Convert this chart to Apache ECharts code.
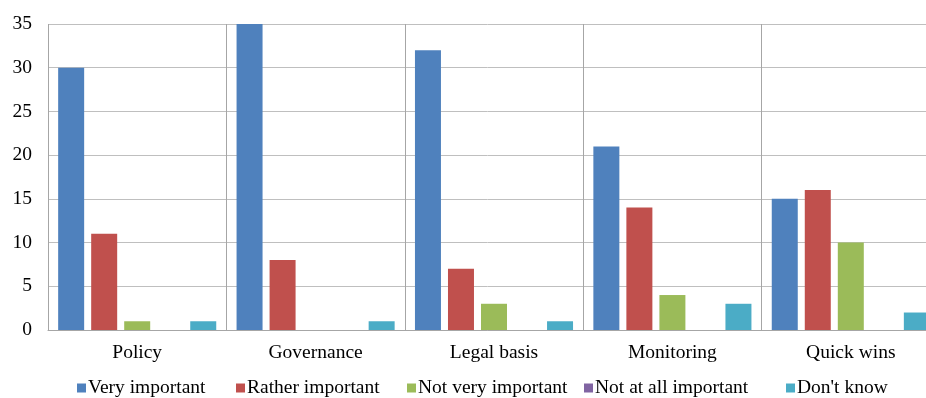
<!DOCTYPE html>
<html>
<head>
<meta charset="utf-8">
<script src="https://cdn.jsdelivr.net/npm/echarts@6/dist/echarts.min.js"></script>
<style>
html,body{margin:0;padding:0;background:#fff;}
#chart{width:926px;height:398px;}
</style>
</head>
<body>
<div id="chart"></div>
<script>
const categories = ['Policy', 'Governance', 'Legal basis', 'Monitoring', 'Quick wins'];
const seriesNames = ['Very important', 'Rather important', 'Not very important', 'Not at all important', "Don't know"];
const veryImportant = [30, 35, 32, 21, 15];
const ratherImportant = [11, 8, 7, 14, 16];
const notVeryImportant = [1, 0, 3, 4, 10];
const notAtAllImportant = [0, 0, 0, 0, 0];
const dontKnow = [1, 1, 1, 3, 2];
const yTicks = [0, 5, 10, 15, 20, 25, 30, 35];

const colors = ['#4F81BD', '#C0504D', '#9BBB59', '#8064A2', '#4BACC6'];
const values = [veryImportant, ratherImportant, notVeryImportant, notAtAllImportant, dontKnow];
const legendLeft = [77, 236, 407, 584, 786];
const font = '"Liberation Serif", "Times New Roman", serif';

const chart = echarts.init(document.getElementById('chart'));
chart.setOption({
  animation: false,
  color: colors,
  textStyle: { fontFamily: font },
  // plot area runs past the right edge of the canvas
  grid: { left: 48, width: 892, top: 24, height: 306, containLabel: false, outerBoundsMode: 'none' },
  legend: seriesNames.map((name, i) => ({
    top: 378,
    left: legendLeft[i],
    padding: 0,
    itemWidth: 9,
    itemHeight: 9,
    icon: 'rect',
    textStyle: { fontFamily: font, fontSize: 19.5, color: '#000', padding: [0, 0, 0, -3] },
    data: [name]
  })),
  xAxis: {
    type: 'category',
    data: categories,
    axisLine: { lineStyle: { color: '#A6A6A6', width: 1 } },
    axisTick: { show: false },
    splitLine: { show: true, lineStyle: { color: '#A6A6A6', width: 1 } },
    axisLabel: { color: '#000', fontSize: 19.5, fontFamily: font, margin: 13 }
  },
  yAxis: {
    type: 'value',
    min: yTicks[0],
    max: yTicks[yTicks.length - 1],
    interval: 5,
    axisLine: { show: false },
    axisTick: { show: false },
    splitLine: { lineStyle: { color: '#BFBFBF', width: 1 } },
    axisLabel: { color: '#000', fontSize: 19.5, fontFamily: font, margin: 16 }
  },
  series: seriesNames.map((name, i) => ({
    name,
    type: 'bar',
    data: values[i],
    barWidth: 26,
    barGap: '27%',
    itemStyle: { color: colors[i] }
  }))
});
</script>
</body>
</html>
